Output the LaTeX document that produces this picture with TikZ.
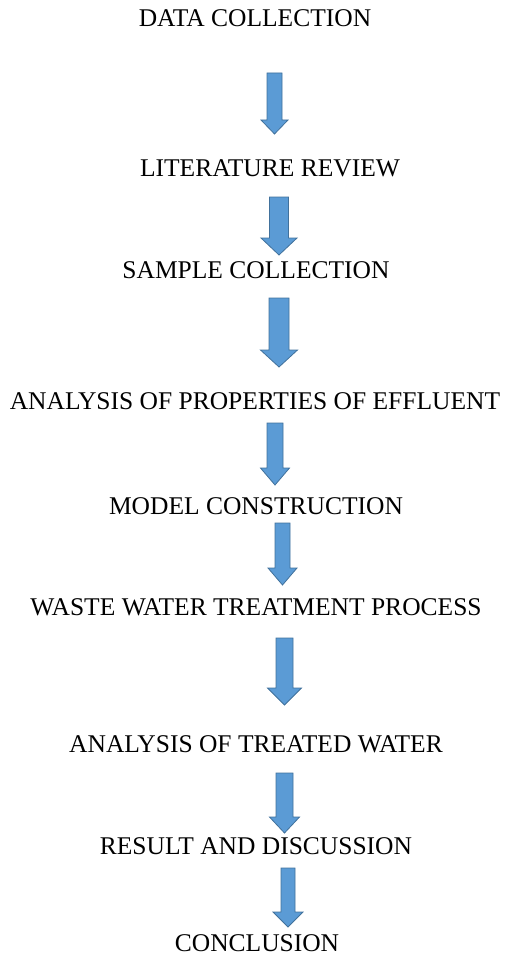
\documentclass[tikz,border=0pt]{standalone}
\usepackage{fontspec}
\setmainfont{Liberation Serif}
\begin{document}
\begin{tikzpicture}[x=1pt,y=-1pt,
  steplabel/.style={anchor=base,inner sep=0pt,font=\fontsize{25.5}{30}\selectfont},
  flowarrow/.style={fill={rgb,255:red,91;green,155;blue,213},draw={rgb,255:red,65;green,113;blue,156},line width=0.8pt,line join=miter}]
\useasboundingbox (0,0) rectangle (506,960);
% block arrow: #1 centre x, #2 top, #3 start of head, #4 tip, #5 shaft half-width, #6 head half-width
\newcommand\blockarrow[6]{%
  \draw[flowarrow] (#1-#5,#2) -- (#1+#5,#2) -- (#1+#5,#3) -- (#1+#6,#3)
    -- (#1,#4) -- (#1-#6,#3) -- (#1-#5,#3) -- cycle;}
\node[steplabel] (s1) at (255,27)  {DATA COLLECTION};
\node[steplabel] (s2) at (270,176) {LITERATURE REVIEW};
\node[steplabel] (s3) at (256,278) {SAMPLE COLLECTION};
\node[steplabel] (s4) at (255,409) {ANALYSIS OF PROPERTIES OF EFFLUENT};
\node[steplabel] (s5) at (256,514) {MODEL CONSTRUCTION};
\node[steplabel] (s6) at (256,615) {WASTE WATER TREATMENT PROCESS};
\node[steplabel] (s7) at (256,752) {ANALYSIS OF TREATED WATER};
\node[steplabel] (s8) at (256,854) {RESULT AND DISCUSSION};
\node[steplabel] (s9) at (257,951) {CONCLUSION};
\blockarrow{274.5}{73}{120}{134}{7.5}{13.5}
\blockarrow{279}{197}{238}{255}{9.5}{18}
\blockarrow{279}{298}{350}{367}{10}{18.5}
\blockarrow{275}{423}{468}{485}{8}{14.5}
\blockarrow{282.5}{523}{568}{585}{7.5}{14.5}
\blockarrow{284.5}{638}{688}{705}{8.5}{17}
\blockarrow{284.5}{773}{817}{833}{8.5}{15}
\blockarrow{288}{868}{912}{927}{7}{15}
\end{tikzpicture}
\end{document}
